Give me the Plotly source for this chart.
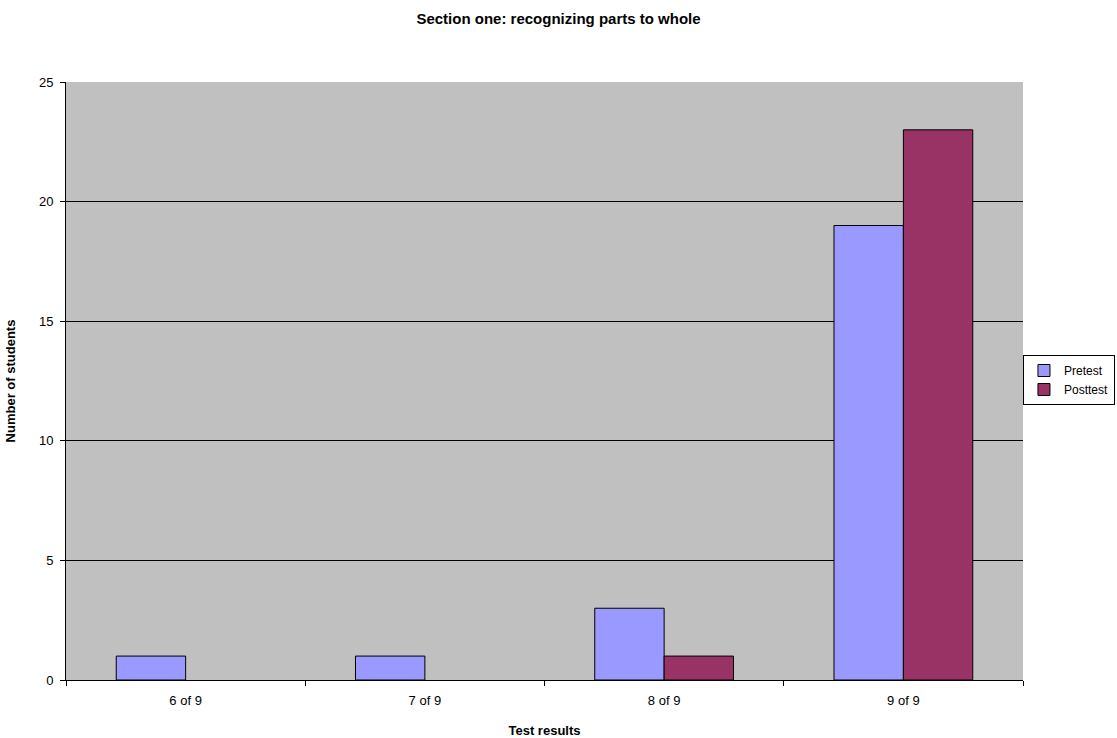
import plotly.graph_objects as go

categories = ["6 of 9", "7 of 9", "8 of 9", "9 of 9"]
pretest = [1, 1, 3, 19]
posttest = [None, None, 1, 23]

fig = go.Figure()
fig.add_trace(go.Bar(x=categories, y=pretest, name="Pretest",
                     marker=dict(color="#9999FF", line=dict(color="black", width=1))))
fig.add_trace(go.Bar(x=categories, y=posttest, name="Posttest",
                     marker=dict(color="#993366", line=dict(color="black", width=1))))

font = "Liberation Sans, Arial, sans-serif"
fig.update_layout(
    width=1117, height=738,
    margin=dict(l=66, r=94, t=82, b=58, autoexpand=False),
    paper_bgcolor="white", plot_bgcolor="#C0C0C0",
    barmode="group", bargap=0.42, bargroupgap=0,
    font=dict(family=font, size=13, color="black"),
    title=dict(text="<b>Section one: recognizing parts to whole</b>", x=0.5, xref="container",
               xanchor="center", y=1 - 19 / 738, yanchor="middle", font=dict(size=15)),
    showlegend=True,
    legend=dict(x=1.0961, y=0.5435, xanchor="right", yanchor="top",
                bordercolor="black", borderwidth=1, bgcolor="white",
                font=dict(size=12), tracegroupgap=0, itemwidth=30),
    xaxis=dict(type="category", tickson="boundaries", ticks="outside", ticklen=5,
               tickcolor="black", showline=True, linecolor="black", linewidth=1,
               showgrid=False, ticklabelstandoff=8,
               title=dict(text="<b>Test results</b>", font=dict(size=13), standoff=20)),
    yaxis=dict(range=[0, 25], dtick=5, ticks="outside", ticklen=5, tickcolor="black",
               showline=True, linecolor="black", linewidth=1, ticklabelstandoff=4,
               showgrid=True, gridcolor="black", gridwidth=1, zeroline=False,
               title=dict(text="<b>Number of students</b>", font=dict(size=13), standoff=20)),
)
fig.write_html("out.html")
